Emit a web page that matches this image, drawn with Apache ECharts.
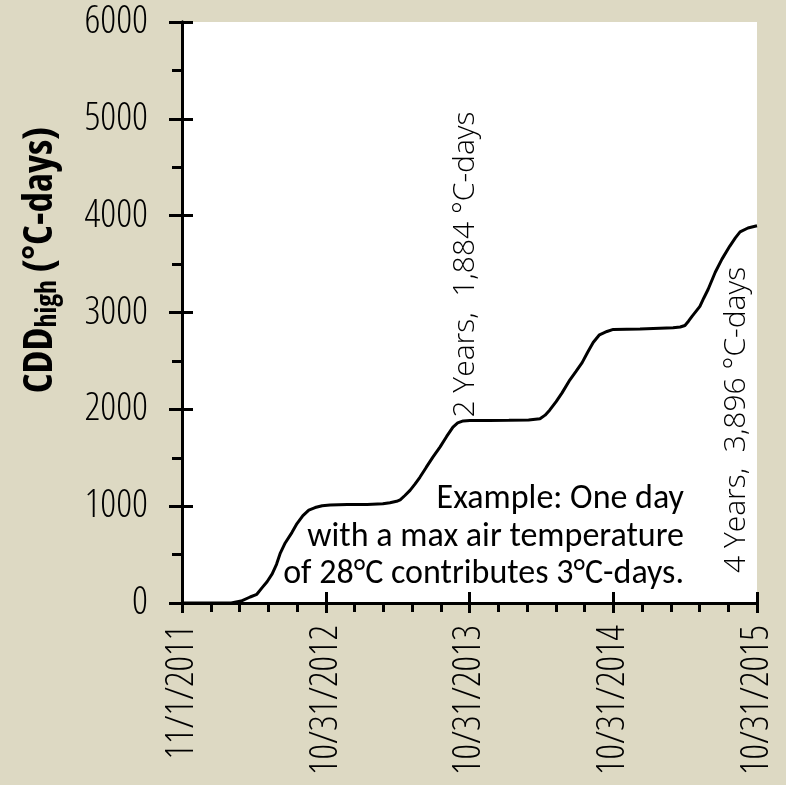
<!DOCTYPE html>
<html>
<head>
<meta charset="utf-8">
<script src="https://cdn.jsdelivr.net/npm/echarts@6/dist/echarts.min.js"></script>
<style>
  html, body { margin: 0; padding: 0; background: #ddd9c3; }
  #chart { width: 786px; height: 785px; }
</style>
</head>
<body>
<div id="chart"></div>
<script>
// Cumulative cooling degree-days (high threshold), Nov 2011 - Oct 2015
const xTickLabels = ['11/1/2011', '10/31/2012', '10/31/2013', '10/31/2014', '10/31/2015'];
const yTicks = [0, 1000, 2000, 3000, 4000, 5000, 6000];

// days since 11/1/2011
const days = [0, 60, 125, 150, 173, 190, 203, 216, 229, 240, 249, 262, 279, 292, 307, 322, 338, 356, 376, 420, 470, 510, 528, 545, 554, 566, 579, 592, 604, 620, 637, 655, 672, 688, 700, 714, 731, 780, 830, 880, 909, 922, 934, 950, 965, 985, 1000, 1016, 1030, 1044, 1060, 1079, 1095, 1163, 1247, 1265, 1277, 1286, 1295, 1315, 1325, 1336, 1354, 1371, 1391, 1405, 1417, 1437, 1460];
// cumulative degree-days
const cdd = [0, 0, 0, 20, 62, 90, 156, 220, 301, 400, 509, 620, 727, 820, 903, 960, 986, 1005, 1012, 1016, 1018, 1024, 1035, 1050, 1065, 1110, 1163, 1230, 1298, 1400, 1506, 1610, 1720, 1817, 1860, 1880, 1884, 1885, 1886, 1890, 1902, 1940, 1994, 2080, 2170, 2305, 2390, 2482, 2590, 2690, 2770, 2804, 2825, 2830, 2842, 2850, 2866, 2910, 2960, 3063, 3150, 3240, 3416, 3551, 3686, 3770, 3832, 3873, 3896];

// annotated points: [day, value, years]
const milestones = [[731, 1884, 2], [1460, 3896, 4]];
const exampleText = ['Example: One day', 'with a max air temperature', 'of 28°C contributes 3°C-days.'];

const narrowFamily = '"Open Sans"';
const xMax = 1460, xStep = 365;
const black = '#000';
const line3 = { color: black, width: 3 };

const chart = echarts.init(document.getElementById('chart'), null, { renderer: 'canvas' });

const baseX = {
  type: 'value', min: 0, max: xMax, interval: xStep, gridIndex: 0,
  splitLine: { show: false }
};
const baseY = {
  type: 'value', min: yTicks[0], max: yTicks[yTicks.length - 1], interval: yTicks[1] - yTicks[0], gridIndex: 0,
  splitLine: { show: false }
};
const noTicks = { axisTick: { show: false }, axisLabel: { show: false }, minorTick: { show: false } };

chart.setOption({
  backgroundColor: '#ddd9c3',
  animation: false,
  grid: {
    left: 182, right: 29, top: 22, bottom: 182,
    show: true, backgroundColor: '#ffffff', borderWidth: 0
  },
  xAxis: [
    Object.assign({}, baseX, {
      position: 'bottom',
      axisLine: { show: true, lineStyle: line3 },
      axisTick: { show: true, inside: false, length: 10, lineStyle: line3 },
      minorTick: { show: true, splitNumber: 5, length: 9, lineStyle: line3 },
      axisLabel: {
        rotate: 90, margin: 22, color: black,
        fontFamily: narrowFamily, fontWeight: '300 condensed', fontSize: 38,
        formatter: v => xTickLabels[Math.round(v / xStep)] || ''
      }
    }),
    Object.assign({}, baseX, {
      position: 'bottom',
      axisLine: { show: false },
      axisTick: { show: true, inside: true, length: 11, lineStyle: line3 },
      axisLabel: { show: false }
    }),
    Object.assign({}, baseX, noTicks, {
      position: 'top',
      axisLine: { show: true, lineStyle: line3 }
    })
  ],
  yAxis: [
    Object.assign({}, baseY, {
      position: 'left',
      axisLine: { show: true, lineStyle: line3 },
      axisTick: { show: true, inside: false, length: 13, lineStyle: line3 },
      minorTick: { show: true, splitNumber: 2, length: 10, lineStyle: line3 },
      axisLabel: {
        margin: 34, color: black,
        fontFamily: narrowFamily, fontWeight: '300 condensed', fontSize: 39,
        formatter: v => String(v)
      }
    }),
    Object.assign({}, baseY, {
      position: 'left',
      axisLine: { show: false },
      axisTick: { show: true, inside: true, length: 11, lineStyle: line3 },
      axisLabel: { show: false }
    }),
    Object.assign({}, baseY, noTicks, {
      position: 'right',
      axisLine: { show: true, lineStyle: line3 }
    })
  ],
  series: [{
    type: 'line',
    xAxisIndex: 0, yAxisIndex: 0,
    data: days.map((d, i) => [d, cdd[i]]),
    showSymbol: false,
    symbol: 'none',
    lineStyle: { color: black, width: 3 },
    z: 5
  }]
});

// milestone labels, anchored at the data point they describe
const zero = chart.convertToPixel({ gridIndex: 0 }, [0, 0]);
const graphics = milestones.map(([d, v, yrs], i) => {
  const p = chart.convertToPixel({ gridIndex: 0 }, [d, v]);
  const txt = yrs + ' Years,  ' + v.toLocaleString('en-US') + ' °C-days';
  return {
    type: 'text',
    x: i === 0 ? p[0] + 11 : p[0] - 6,
    y: i === 0 ? p[1] - 3 : zero[1] - 30,
    rotation: Math.PI / 2,
    z: 10,
    style: {
      text: txt, fill: black, textAlign: 'left', textVerticalAlign: 'bottom',
      font: 'normal 300 30px ' + narrowFamily
    }
  };
});

graphics.push({
  type: 'text',
  x: 684, y: 481, z: 10,
  style: {
    text: exampleText.join('\n'), fill: black, textAlign: 'right', textVerticalAlign: 'top',
    font: '34px Carlito, Lato, sans-serif', lineHeight: 37.5
  }
});

graphics.push({
  type: 'text',
  x: 40, y: 260, rotation: Math.PI / 2, z: 10,
  style: {
    text: '{a|CDD}{b|high}{a| (°C-days)}',
    textAlign: 'center', textVerticalAlign: 'middle',
    rich: {
      a: { fontFamily: narrowFamily, fontWeight: 'bold condensed', fontSize: 41, fill: black, lineHeight: 44 },
      b: { fontFamily: narrowFamily, fontWeight: 'bold condensed', fontSize: 28, fill: black, verticalAlign: 'bottom', lineHeight: 44, padding: [10, 0, 0, 0] }
    }
  }
});

chart.setOption({ graphic: graphics });
</script>
</body>
</html>
